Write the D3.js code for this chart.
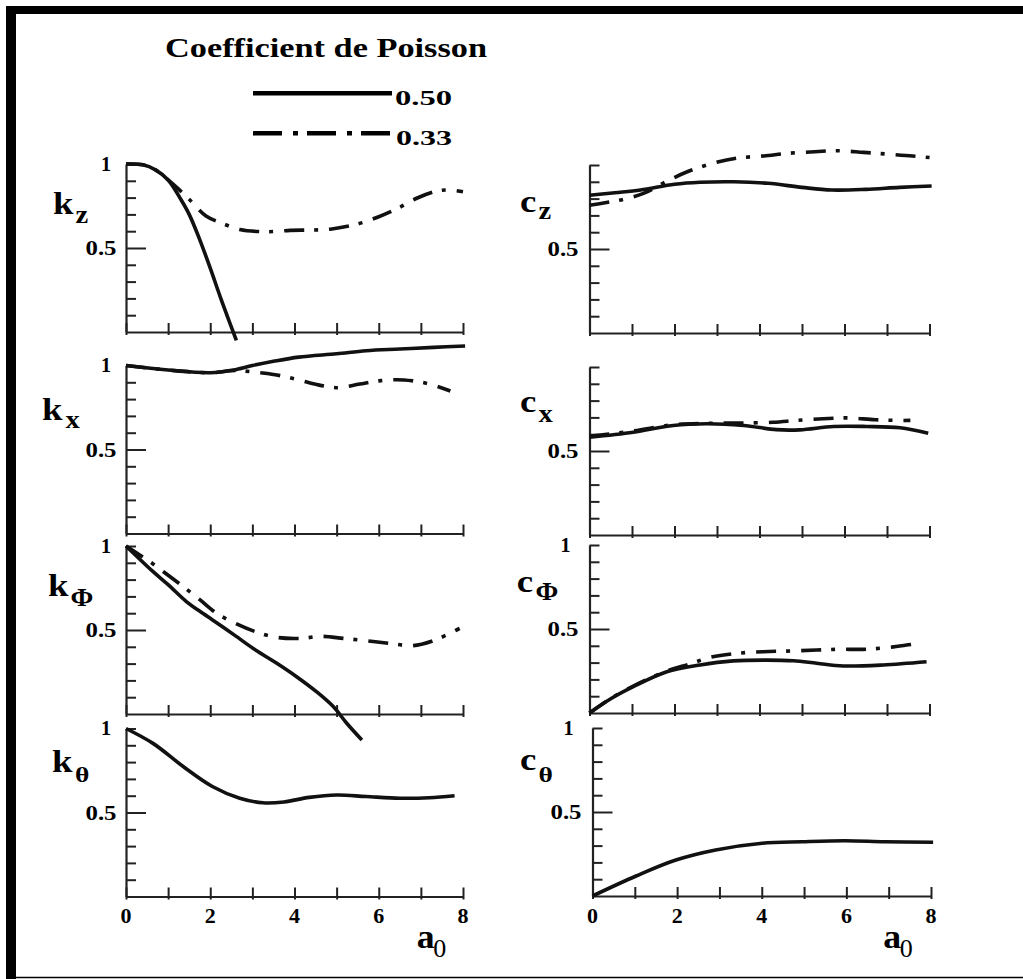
<!DOCTYPE html>
<html><head><meta charset="utf-8">
<script src="https://cdn.jsdelivr.net/npm/d3@7"></script>
<style>body{margin:0;background:#fff} svg{display:block}</style>
</head><body>
<script>
// ---------------- DATA ----------------
const legendTitle = "Coefficient de Poisson";
const seriesNames = ["0.50", "0.33"];
const xTickValues = [0, 1, 2, 3, 4, 5, 6, 7, 8];
const xTickLabels = [0, 2, 4, 6, 8];
const yTickValues = [0.1, 0.2, 0.3, 0.4, 0.5, 0.6, 0.7, 0.8, 0.9, 1.0];
const xAxisLabel = ["a", "0"];

// [a0, value] pairs
const kz_050 = [[0,1.0],[0.4,0.995],[0.7,0.965],[1.0,0.905],[1.3,0.79],[1.5,0.70],[1.75,0.55],[2.0,0.38],[2.25,0.20],[2.5,0.03],[2.62,-0.05]];
const kz_033 = [[0,1.0],[0.4,0.995],[0.7,0.965],[1.0,0.905],[1.25,0.85],[1.5,0.79],[1.9,0.69],[2.3,0.645],[2.7,0.61],[3.3,0.597],[3.9,0.605],[4.4,0.607],[4.85,0.612],[5.5,0.643],[6.0,0.686],[6.45,0.736],[6.9,0.796],[7.4,0.84],[7.7,0.845],[8.0,0.835]];
const kx_050 = [[0,1.0],[1,0.973],[2,0.957],[2.55,0.973],[3,1.0],[3.5,1.025],[4.1,1.05],[5,1.07],[5.7,1.088],[6.5,1.098],[7.3,1.108],[8.05,1.116]];
const kx_033 = [[0,1.0],[1,0.973],[2,0.957],[2.6,0.97],[3,0.962],[3.5,0.947],[4.05,0.918],[4.5,0.888],[5.05,0.868],[5.55,0.89],[6.05,0.91],[6.6,0.914],[7.2,0.89],[7.7,0.848]];
const kphi_050 = [[0,1.0],[0.63,0.85],[1.0,0.77],[1.44,0.668],[1.85,0.595],[2.23,0.53],[2.6,0.465],[3.02,0.39],[3.58,0.302],[4.05,0.222],[4.52,0.133],[4.92,0.044],[5.24,-0.055],[5.6,-0.155]];
const kphi_033 = [[0,1.0],[0.57,0.906],[0.89,0.847],[1.36,0.758],[1.76,0.679],[2.15,0.60],[2.59,0.54],[3.07,0.49],[3.58,0.456],[4.13,0.45],[4.64,0.462],[5.16,0.45],[5.71,0.436],[6.26,0.42],[6.82,0.407],[7.29,0.436],[7.69,0.48],[7.92,0.51]];
const ktheta_050 = [[0,1.0],[0.65,0.91],[1.35,0.775],[2.05,0.655],[2.7,0.585],[3.25,0.558],[3.75,0.563],[4.35,0.59],[5.0,0.604],[5.7,0.595],[6.5,0.585],[7.2,0.588],[7.8,0.60]];
const cz_050 = [[0,0.82],[0.6,0.835],[1.2,0.851],[2,0.885],[2.6,0.897],[3.4,0.90],[4.2,0.891],[5,0.867],[5.7,0.851],[6.5,0.855],[7.3,0.867],[8.05,0.875]];
const cz_033 = [[0,0.76],[0.8,0.796],[1.27,0.831],[1.85,0.907],[2.3,0.96],[2.9,1.01],[3.45,1.04],[4.1,1.054],[4.7,1.07],[5.3,1.079],[5.85,1.085],[6.45,1.075],[7.0,1.065],[7.6,1.054],[8.05,1.043]];
const cx_050 = [[0,0.582],[1.03,0.612],[1.97,0.652],[2.76,0.662],[3.62,0.652],[4.4,0.627],[4.95,0.626],[5.74,0.646],[6.52,0.646],[7.31,0.638],[7.97,0.606]];
const cx_033 = [[0,0.588],[1.0,0.618],[2.0,0.657],[2.76,0.665],[3.5,0.666],[4.32,0.671],[4.87,0.682],[5.5,0.692],[6.09,0.697],[6.72,0.686],[7.31,0.682],[7.55,0.682]];
const cphi_050 = [[0,0.0],[0.5,0.085],[1.03,0.157],[1.82,0.246],[2.6,0.286],[3.38,0.31],[4.17,0.315],[4.8,0.311],[5.35,0.296],[5.97,0.28],[6.91,0.286],[7.93,0.305]];
const cphi_033 = [[0,0.0],[0.5,0.087],[1.03,0.16],[1.82,0.25],[2.36,0.292],[2.84,0.331],[3.46,0.355],[4.09,0.365],[4.72,0.369],[5.35,0.375],[5.89,0.379],[6.44,0.379],[6.99,0.389],[7.62,0.409],[7.75,0.412]];
const ctheta_050 = [[0,0.0],[1.03,0.119],[1.97,0.214],[2.91,0.274],[4.01,0.314],[4.95,0.323],[5.97,0.329],[6.91,0.323],[8.05,0.32]];

// panel definitions: [main letter, subscript, column, row, solid series, dash-dot series, show "1"]
const panelDefs = [
  ["k","z",0,0,kz_050,kz_033,true],
  ["k","x",0,1,kx_050,kx_033,true],
  ["k","\u03A6",0,2,kphi_050,kphi_033,true],
  ["k","\u03B8",0,3,ktheta_050,null,true],
  ["c","z",1,0,cz_050,cz_033,false],
  ["c","x",1,1,cx_050,cx_033,false],
  ["c","\u03A6",1,2,cphi_050,cphi_033,true],
  ["c","\u03B8",1,3,ctheta_050,null,true]
];

// ---------------- LAYOUT ----------------
const W = 1023, H = 979;
const serif = "'Liberation Serif','Times New Roman',serif";
const INK = "#111";
const colX = [[126, 463], [589.5, 929.5]];
const rowY0 = [[332, 533.5, 714, 896.5], [333, 535, 713, 896]];
const PH = 168;
// label positions [mainX, mainBaseline, subX, subBaseline, subSize, subScale]
const labelPos = {
  "0,0":[53,214,75.5,222.7,26,1.1], "0,1":[42,420,65.5,428.3,26,1.1], "0,2":[48,596,70.5,606,25,1.1], "0,3":[52,771.7,75,781.5,22,1.25],
  "1,0":[520,211.7,538.5,219,26,1.1], "1,1":[520,411.7,538.5,421.7,26,1.1], "1,2":[516.7,591.7,535.5,600,25,1.1], "1,3":[520,770,538.5,782,22,1.25]
};
const DASHDOT = "20 10 4 11";

const svg = d3.select("body").append("svg").attr("width", W).attr("height", H);
svg.append("rect").attr("width", W).attr("height", H).attr("fill", "#fff");

// frame
svg.append("rect").attr("x", 6).attr("y", 6).attr("width", W - 6).attr("height", 8).attr("fill", "#000");
svg.append("rect").attr("x", 6).attr("y", 6).attr("width", 10).attr("height", H - 6).attr("fill", "#000");
svg.append("line").attr("x1", 16).attr("x2", W).attr("y1", 977.5).attr("y2", 977.5).attr("stroke", "#000").attr("stroke-width", 1.5);

function text(x, y, s, o) {
  o = o || {};
  const t = svg.append("text")
    .attr("transform", `translate(${x},${y}) scale(${o.sx || 1},1)`)
    .attr("font-family", serif)
    .attr("font-weight", o.bold === false ? "normal" : "bold")
    .attr("font-size", o.size || 20)
    .attr("text-anchor", o.anchor || "start")
    .attr("fill", "#000")
    .text(s);
  if (o.len) t.attr("textLength", o.len).attr("lengthAdjust", "spacingAndGlyphs");
  return t;
}

// legend
text(165, 56.7, legendTitle, {size: 27, len: 322});
svg.append("line").attr("x1", 253).attr("x2", 392).attr("y1", 93.3).attr("y2", 93.3)
  .attr("stroke", "#000").attr("stroke-width", 4.5);
svg.append("line").attr("x1", 253).attr("x2", 392).attr("y1", 133.3).attr("y2", 133.3)
  .attr("stroke", "#000").attr("stroke-width", 4.5).attr("stroke-dasharray", "29 11 5 9");
text(395, 105, seriesNames[0], {size: 20, len: 57});
text(396, 145, seriesNames[1], {size: 20, len: 56});

// panels
panelDefs.forEach(([main, sub, col, row, s50, s33, show1]) => {
  const y0 = rowY0[col][row];
  let xr = colX[col].slice();
  if (col === 1 && row === 3) xr = [592.5, 931];
  const x = d3.scaleLinear().domain([0, 8]).range(xr);
  const y = d3.scaleLinear().domain([0, 1]).range([y0, y0 - PH]);
  const g = svg.append("g");

  const yAx = d3.axisRight(y).tickValues(yTickValues).tickSize(10).tickSizeOuter(0).tickFormat("");
  const gy = g.append("g").attr("transform", `translate(${xr[0]},0)`).call(yAx);
  gy.selectAll(".tick line").attr("x2", d => Math.abs(d - 0.5) < 1e-9 ? 20 : 10);

  const xAx = d3.axisTop(x).tickValues(xTickValues).tickSize(9).tickSizeOuter(0).tickFormat("");
  const gx = g.append("g").attr("transform", `translate(0,${y0})`).call(xAx);
  gx.selectAll(".tick line").attr("y1", 3);

  g.selectAll(".domain").attr("stroke", "#222").attr("stroke-width", 2.2);
  g.selectAll(".tick line").attr("stroke", "#222").attr("stroke-width", 2);

  // y tick labels
  text(xr[0] - (col === 0 ? 9.5 : 11), y(0.5) + 7, "0.5", {size: 20, anchor: "end", len: 31});
  if (show1) text(xr[0] - (col === 0 ? 15 : 19), y(1) + 6.5, "1", {size: 20, anchor: "end"});

  // panel label
  const lp = labelPos[col + "," + row];
  text(lp[0], lp[1], main, {size: 32, sx: 1.15});
  text(lp[2], lp[3], sub, {size: lp[4], sx: lp[5]});

  // x tick labels and a0 on bottom row
  if (row === 3) {
    xTickLabels.forEach(v => text(x(v), 923, String(v), {size: 22, anchor: "middle"}));
    const ax = col === 0 ? 416.7 : 883.3;
    text(ax, 948.3, xAxisLabel[0], {size: 34, sx: 1.05});
    text(ax + 16.5, 956.7, xAxisLabel[1], {size: 26, bold: false});
  }

  const line = d3.line().x(d => x(d[0])).y(d => y(d[1])).curve(d3.curveCatmullRom.alpha(0.5));
  if (s33) g.append("path").datum(s33).attr("d", line).attr("fill", "none")
    .attr("stroke", INK).attr("stroke-width", 3.6).attr("stroke-dasharray", DASHDOT);
  g.append("path").datum(s50).attr("d", line).attr("fill", "none")
    .attr("stroke", INK).attr("stroke-width", 3.6);
});
</script>
</body></html>
